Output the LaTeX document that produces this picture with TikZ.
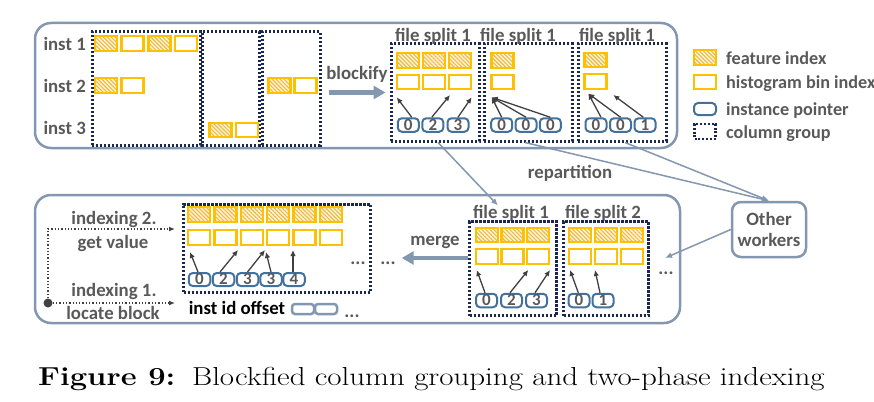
\documentclass[tikz,border=0pt]{standalone}
\usepackage{fontspec}
\newfontfamily\figfont{Carlito}
\usetikzlibrary{arrows.meta,patterns.meta,calc}
\definecolor{panelc}{HTML}{8497B0}
\definecolor{navy}{HTML}{1A2850}
\definecolor{yel}{HTML}{FFC000}
\definecolor{hatchbg}{HTML}{FFF4D2}
\definecolor{hatchc}{HTML}{EDB94A}
\definecolor{ptrc}{HTML}{41719C}
\definecolor{txtc}{HTML}{595959}
\definecolor{arrc}{HTML}{404040}
\tikzset{
  panel/.style={draw=panelc, line width=2.5pt, rounded corners=16pt, inner sep=0pt},
  grp/.style={draw=navy, line width=3pt, dash pattern=on 2.4pt off 1.6pt, inner sep=0pt},
  cellbase/.style={draw=yel, line width=2.3pt, minimum width=22pt, minimum height=14.5pt, inner sep=0pt},
  cellh/.style={cellbase, preaction={fill=hatchbg}, pattern={Lines[angle=-45,distance=2.8pt,line width=1.1pt]}, pattern color=hatchc},
  celle/.style={cellbase, fill=white},
  ptr/.style={draw=ptrc, line width=2pt, rounded corners=4pt, minimum width=21pt, minimum height=13.5pt, inner sep=0pt, font=\figfont\bfseries\fontsize{17}{17}\selectfont, text=txtc, text height=10.5pt, text depth=0pt},
  lbl/.style={font=\figfont\bfseries\fontsize{18.8}{20}\selectfont, text=txtc, inner sep=0pt, text height=12.5pt, text depth=0pt},
  legt/.style={lbl, font=\figfont\bfseries\fontsize{18.2}{20}\selectfont, anchor=west},
  parr/.style={draw=arrc, line width=1.3pt, -{Latex[length=6pt,width=5.5pt]}},
  fat/.style={draw=panelc, line width=4.5pt, -{Triangle[length=12pt,width=13pt]}},
  rep/.style={draw=panelc, line width=1.5pt, -{Latex[length=7pt,width=6pt]}},
  idx/.style={draw=arrc, line width=1.3pt, dotted, -{Latex[length=6pt,width=5pt]}},
  owbox/.style={draw=panelc, line width=2.5pt, rounded corners=9pt, inner sep=0pt, minimum width=74pt, minimum height=55pt, align=center, font=\figfont\bfseries\fontsize{18.8}{21}\selectfont, text=txtc},
  offbox/.style={draw=panelc, line width=2.5pt, rounded corners=3pt, minimum width=22pt, minimum height=10pt, inner sep=0pt},
}
\begin{document}
\begin{tikzpicture}[x=1pt,y=-1pt]
\useasboundingbox (0,0) rectangle (874,401);

% ---------- top panel ----------
\node[panel, minimum width=642pt, minimum height=125pt] (toppan) at (356,85.5) {};
\node[lbl, anchor=east] (in1) at (86,44) {inst 1};
\node[lbl, anchor=east] (in2) at (86,86) {inst 2};
\node[lbl, anchor=east] (in3) at (86,128) {inst 3};

\node[grp, minimum width=108pt, minimum height=113pt] (g1) at (146,88.5) {};
\node[grp, minimum width=57pt, minimum height=113pt] (g2) at (230.5,88.5) {};
\node[grp, minimum width=58pt, minimum height=113pt] (g3) at (291,88.5) {};

\node[cellh] (r1a) at (106,43.5) {};
\node[celle] (r1b) at (132.5,43.5) {};
\node[cellh] (r1c) at (159.5,43.5) {};
\node[celle] (r1d) at (186,43.5) {};
\node[cellh] (r2a) at (106,85.5) {};
\node[celle] (r2b) at (132.5,85.5) {};
\node[cellh] (r2c) at (279.5,85.5) {};
\node[celle] (r2d) at (305.5,85.5) {};
\node[cellh] (r3a) at (220.5,130) {};
\node[celle] (r3b) at (247,130) {};

\node[lbl] (blk) at (357,73) {blockify};

% file split boxes (top)
\node[grp, minimum width=88pt, minimum height=97pt] (gA) at (435,92.5) {};
\node[grp, minimum width=88pt, minimum height=97pt] (gB) at (528,92.5) {};
\node[grp, minimum width=88pt, minimum height=97pt] (gC) at (622,92.5) {};
\node[lbl] (fA) at (433,35) {file split 1};
\node[lbl] (fB) at (518,35) {file split 1};
\node[lbl] (fC) at (617,35) {file split 1};

\draw[fat, shorten <=7pt, shorten >=4pt] (g3.east |- gA) -- (gA.west);

\foreach \x [count=\i] in {408,434,460} {
  \node[cellh] (hA\i) at (\x,60.5) {};
  \node[celle] (eA\i) at (\x,82) {};
}
\node[cellh] (hB1) at (502.5,60.5) {};
\node[celle] (eB1) at (502.5,82) {};
\node[cellh] (hC1) at (595.5,60) {};
\node[celle] (eC1) at (595.5,81.5) {};

\node[ptr] (pA1) at (408.3,125) {0};
\node[ptr] (pA2) at (432.8,125) {2};
\node[ptr] (pA3) at (458,125) {3};
\node[ptr] (pB1) at (501.7,125) {0};
\node[ptr] (pB2) at (526,125) {0};
\node[ptr] (pB3) at (550.3,125) {0};
\node[ptr] (pC1) at (596,125) {0};
\node[ptr] (pC2) at (620.5,125) {0};
\node[ptr] (pC3) at (645,125) {1};

\coordinate (tA1) at (396.7,97.3);
\coordinate (tA2) at (450,95);
\coordinate (tA3) at (471.7,97.3);
\coordinate (tB) at (491.7,97.3);
\coordinate (tC1) at (588.3,93.5);
\coordinate (tC2) at (613.3,95);
\draw[parr] ([xshift=3.4pt]pA1.north) -- (tA1);
\draw[parr] ([xshift=-1pt]pA2.north) -- (tA2);
\draw[parr] (pA3.north) -- (tA3);
\draw[parr] (pB1.north) -- (tB);
\draw[parr] (pB2.north) -- (tB);
\draw[parr] (pB3.north) -- (tB);
\draw[parr] ([xshift=5pt]pC1.north) -- (tC1);
\draw[parr] (pC2.north) -- (tC1);
\draw[parr] ([xshift=-1.7pt]pC3.north) -- (tC2);

% legend
\node[cellh] (lg1) at (705,57.5) {};
\node[celle] (lg2) at (705,82) {};
\node[ptr, minimum width=22pt, minimum height=12pt] (lg3) at (705,109) {};
\node[grp, line width=2.4pt, dash pattern=on 2pt off 1.8pt, minimum width=21pt, minimum height=15pt] (lg4) at (705,131.5) {};
\node[legt] (lt1) at (726,58) {feature index};
\node[legt] (lt2) at (726,82) {histogram bin index};
\node[legt] (lt3) at (726,109) {instance pointer};
\node[legt] (lt4) at (726,132) {column group};

% ---------- bottom panel ----------
\node[panel, minimum width=645pt, minimum height=128pt] (botpan) at (357.5,259) {};

\node[grp, minimum width=187pt, minimum height=88pt] (big) at (277,248) {};
\foreach \i in {1,...,6} {
  \node[cellh] (hM\i) at ({199+26.4*(\i-1)},214.5) {};
  \node[celle] (eM\i) at ({199+26.4*(\i-1)},237.5) {};
}
\node[ptr, minimum width=21.5pt, minimum height=13pt] (pM1) at (199.5,279.5) {0};
\node[ptr, minimum width=21.5pt, minimum height=13pt] (pM2) at (223.5,279.5) {2};
\node[ptr, minimum width=21.5pt, minimum height=13pt] (pM3) at (247.5,279.5) {3};
\node[ptr, minimum width=21.5pt, minimum height=13pt] (pM4) at (271,279.5) {3};
\node[ptr, minimum width=21.5pt, minimum height=13pt] (pM5) at (294,279.5) {4};
\coordinate (tM1) at (190,252);
\coordinate (tM2) at (238,250);
\coordinate (tM3) at (265,250);
\coordinate (tM4) at (266,252);
\coordinate (tM5) at (293,250);
\draw[parr] ([xshift=-1.5pt]pM1.north) -- (tM1);
\draw[parr] ([xshift=-3.5pt]pM2.north) -- (tM2);
\draw[parr] (pM3.north) -- (tM3);
\draw[parr] (pM4.north) -- (tM4);
\draw[parr] ([xshift=-1pt]pM5.north) -- (tM5);

\node[lbl] (dotsI) at (358,258) {...};
\node[lbl] (dotsO) at (388,258) {...};

% indexing
\node[lbl] (ix2a) at (114,218) {indexing 2.};
\node[lbl] (ix2b) at (113,242) {get value};
\node[lbl] (ix1a) at (114,290) {indexing 1.};
\node[lbl] (ix1b) at (113,313) {locate block};
\node[circle, fill=arrc, inner sep=0pt, minimum size=9pt] (dot) at (48,303) {};
\coordinate (ixe2) at (175,229);
\coordinate (ixe1) at (175,303);
\draw[idx] (dot) |- (ixe2);
\draw[idx] (dot) -- (ixe1);

\node[lbl, text=black] (iio) at (237,308) {inst id offset};
\node[offbox] (ob1) at (303,309) {};
\node[offbox] (ob2) at (326,309) {};
\node[lbl] (dotsF) at (352,311) {...};

% bottom file splits
\node[lbl] (fs1) at (511,212) {file split 1};
\node[lbl] (fs2) at (603,212) {file split 2};
\node[grp, minimum width=87pt, minimum height=94pt] (bs1) at (513,268.5) {};
\node[grp, minimum width=85pt, minimum height=94pt] (bs2) at (606,268.5) {};
\foreach \x [count=\i] in {487,512.5,538} {
  \node[cellh] (hS\i) at (\x,235) {};
  \node[celle] (eS\i) at (\x,256.5) {};
}
\foreach \x [count=\i] in {580,606,632} {
  \node[cellh] (hT\i) at (\x,235) {};
  \node[celle] (eT\i) at (\x,256.5) {};
}
\node[ptr] (pS1) at (486.5,300.5) {0};
\node[ptr] (pS2) at (511.5,300.5) {2};
\node[ptr] (pS3) at (536.5,300.5) {3};
\node[ptr] (pT1) at (579,300.5) {0};
\node[ptr] (pT2) at (603,300.5) {1};
\coordinate (tS1) at (476.7,270);
\coordinate (tS2) at (528.3,270);
\coordinate (tS3) at (550,270);
\coordinate (tT1) at (570,270);
\coordinate (tT2) at (595,270);
\draw[parr] ([xshift=-1.5pt]pS1.north) -- (tS1);
\draw[parr] ([xshift=-1.5pt]pS2.north) -- (tS2);
\draw[parr] ([xshift=-1.5pt]pS3.north) -- (tS3);
\draw[parr] ([xshift=-0.7pt]pT1.north) -- (tT1);
\draw[parr] ([xshift=-3pt]pT2.north) -- (tT2);
\node[lbl] (dotsR) at (666,268) {...};

\node[lbl] (mrg) at (435,239) {merge};
\draw[fat] (bs1.west |- dotsO) -- ([xshift=6pt]dotsO.east);

% other workers
\node[owbox] (ow) at (769,229.5) {Other\\workers};
\coordinate (owend) at (665,258);
\draw[rep] (ow.west) -- (owend);
\draw[rep] ([xshift=3pt]gA.south) -- ([xshift=-13pt]fs1.north);
\draw[rep] ([xshift=-3pt]gB.south) -- (ow.north);
\draw[rep] ([xshift=3pt]gC.south) -- (ow.north);
\node[lbl] (rep) at (570,172) {repartition};

% caption
\node[anchor=base west, inner sep=0pt, xscale=1.19] (cap) at (38,385) {\fontsize{26}{30}\selectfont\textbf{Figure 9:}\hspace{14pt}Blockfied column grouping and two-phase indexing};
\end{tikzpicture}
\end{document}
